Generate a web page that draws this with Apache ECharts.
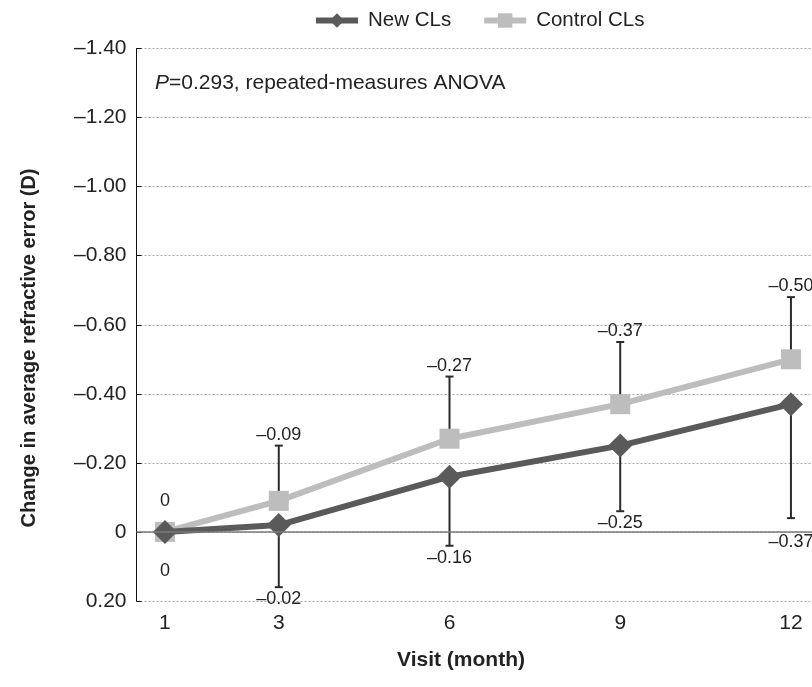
<!DOCTYPE html>
<html>
<head>
<meta charset="utf-8">
<script src="https://cdn.jsdelivr.net/npm/echarts@6/dist/echarts.min.js"></script>
<style>html,body{margin:0;padding:0;background:#fff}#chart{width:812px;height:687px}</style>
</head>
<body>
<div id="chart"></div>
<script>
// ---- data ----
const months = [1, 3, 6, 9, 12];
const newCLs = [0, -0.02, -0.16, -0.25, -0.37];
const controlCLs = [0, -0.09, -0.27, -0.37, -0.50];
// error bar ends (new CLs extend downward, control CLs extend upward)
const newErrEnd = [0, 0.16, 0.04, -0.06, -0.04];
const controlErrEnd = [0, -0.25, -0.45, -0.55, -0.68];
const xTickLabels = [1, 3, 6, 9, 12];
const seriesNames = ['New CLs', 'Control CLs'];
const annotation = 'P=0.293, repeated-measures ANOVA';

const FONT = 'Liberation Sans, Arial, sans-serif';
const fmt = v => (Math.abs(v) < 1e-9 ? '0' : (v < 0 ? '\u2013' : '') + Math.abs(v).toFixed(2));

const chart = echarts.init(document.getElementById('chart'), null, {renderer: 'canvas'});

function errRender(side) {
  return function (params, api) {
    const x = api.value(0), v = api.value(1), e = api.value(2);
    const p = api.coord([x, v]);
    const q = api.coord([x, e]);
    const zeroY = api.coord([x, 0])[1];
    const children = [];
    if (Math.abs(q[1] - p[1]) > 0.5) {
      children.push({type: 'line', shape: {x1: p[0], y1: p[1], x2: q[0], y2: q[1]}, style: {stroke: '#2b2b2b', lineWidth: 2}});
      children.push({type: 'line', shape: {x1: q[0] - 4, y1: q[1], x2: q[0] + 4, y2: q[1]}, style: {stroke: '#2b2b2b', lineWidth: 2}});
    }
    let ly;
    if (side === 'up') {
      ly = Math.min(q[1] - 11, p[1] - 31);
    } else {
      ly = Math.max(q[1] + 12, p[1] + 39);
      if (Math.abs(ly - zeroY) < 4) ly = zeroY + 10;
    }
    children.push({type: 'text', style: {text: fmt(v), x: q[0], y: ly, align: 'center', verticalAlign: 'middle', fontSize: 18, fontFamily: FONT, fill: '#222'}});
    return {type: 'group', children};
  };
}

const option = {
  animation: false,
  backgroundColor: '#fff',
  grid: {left: 136.5, right: 0, top: 48.5, bottom: 86, containLabel: false},
  legend: {
    data: seriesNames,
    top: 10,
    left: 313,
    padding: 0,
    itemWidth: 42,
    itemHeight: 18,
    itemGap: 30,
    lineStyle: {width: 6},
    textStyle: {fontSize: 20.5, fontFamily: FONT, color: '#222', padding: [0, 0, 0, 5]}
  },
  xAxis: {
    type: 'value',
    min: 0.5,
    max: 12.37,
    axisLine: {show: false},
    axisTick: {show: false},
    splitLine: {show: false},
    axisLabel: {customValues: xTickLabels, fontSize: 21, fontFamily: FONT, color: '#222', margin: 12, formatter: v => String(v)}
  },
  yAxis: {
    type: 'value',
    inverse: true,
    min: -1.4,
    max: 0.2,
    interval: 0.2,
    axisLine: {show: true, lineStyle: {color: '#111', width: 1}},
    axisTick: {show: true, inside: true, length: 5, lineStyle: {color: '#111'}},
    splitLine: {show: true, lineStyle: {color: '#a8a8a8', type: [2, 2], width: 1}},
    axisLabel: {fontSize: 21, fontFamily: FONT, color: '#222', margin: 10, formatter: v => fmt(Math.round(v * 100) / 100)}
  },
  graphic: [
    {type: 'text', x: 155, y: 83, style: {text: '{i|P}{n|' + annotation.slice(1) + '}', verticalAlign: 'middle', rich: {i: {fontStyle: 'italic', fontSize: 21, fontFamily: FONT, fill: '#222'}, n: {fontSize: 21, fontFamily: FONT, fill: '#222'}}}},
    {type: 'text', x: 461, y: 660, style: {text: 'Visit (month)', align: 'center', verticalAlign: 'middle', fontSize: 21, fontWeight: 'bold', fontFamily: FONT, fill: '#222'}},
    {type: 'text', x: 29, y: 348, rotation: Math.PI / 2, style: {text: 'Change in average refractive error (D)', align: 'center', verticalAlign: 'middle', fontSize: 20, fontWeight: 'bold', fontFamily: FONT, fill: '#222'}}
  ],
  series: [
    {
      type: 'custom', name: 'newErr', z: 1, silent: true,
      renderItem: errRender('down'),
      data: months.map((m, i) => [m, newCLs[i], newErrEnd[i]]),
      encode: {x: 0, y: [1, 2]}
    },
    {
      type: 'custom', name: 'controlErr', z: 1, silent: true,
      renderItem: errRender('up'),
      data: months.map((m, i) => [m, controlCLs[i], controlErrEnd[i]]),
      encode: {x: 0, y: [1, 2]}
    },
    {
      name: seriesNames[1], type: 'line', z: 3,
      data: months.map((m, i) => [m, controlCLs[i]]),
      symbol: 'rect', symbolSize: 20,
      lineStyle: {color: '#bdbdbd', width: 6},
      itemStyle: {color: '#bdbdbd'},
      markLine: {silent: true, symbol: 'none', label: {show: false}, lineStyle: {color: '#7a7a7a', type: 'solid', width: 1.5}, data: [{yAxis: 0}]}
    },
    {
      name: seriesNames[0], type: 'line', z: 4,
      data: months.map((m, i) => [m, newCLs[i]]),
      symbol: 'diamond', symbolSize: 24,
      lineStyle: {color: '#5a5a5a', width: 6},
      itemStyle: {color: '#5a5a5a'}
    }
  ]
};
chart.setOption(option);
</script>
</body>
</html>
